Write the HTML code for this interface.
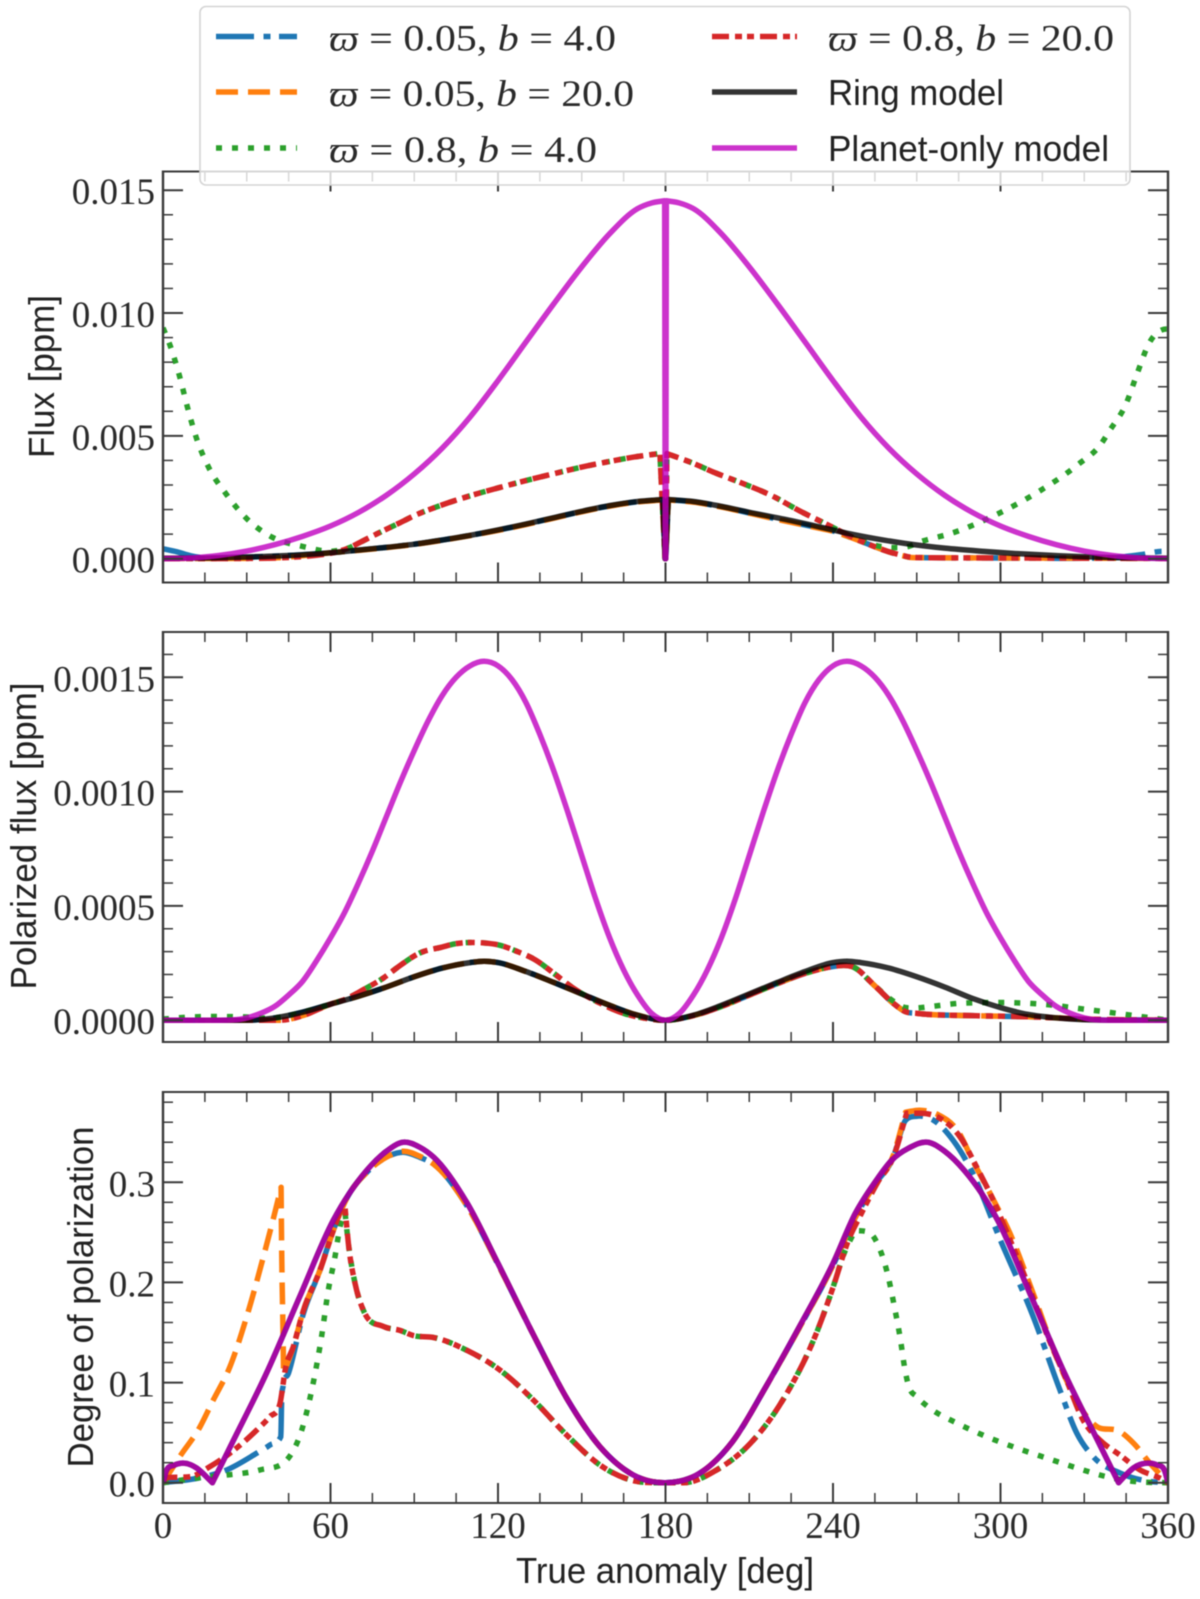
<!DOCTYPE html>
<html lang="en">
<head>
<meta charset="utf-8">
<title>Flux, polarized flux and degree of polarization vs true anomaly</title>
<style>
html,body{margin:0;padding:0;background:#fff;width:1200px;height:1599px;overflow:hidden}
svg{display:block;filter:blur(.45px)}
.tick-label{font-family:"Liberation Serif","DejaVu Serif",serif;font-size:37px;fill:#2a2a2a}
.axis-title{font-family:"Liberation Sans","DejaVu Sans",sans-serif;font-size:36px;fill:#222}
.legend-math{font-family:"Liberation Serif","DejaVu Serif",serif;font-size:37px;fill:#2a2a2a}
.legend-sans{font-family:"Liberation Sans","DejaVu Sans",sans-serif;font-size:36px;fill:#222}
.it{font-style:italic}
</style>
</head>
<body>
<svg id="chart" xmlns="http://www.w3.org/2000/svg" width="1200" height="1599" viewBox="0 0 1200 1599">
  <defs>
    <clipPath id="clip-flux"><rect x="163" y="171.5" width="1005" height="411"/></clipPath>
    <clipPath id="clip-pol"><rect x="163" y="632" width="1005" height="410"/></clipPath>
    <clipPath id="clip-dop"><rect x="163" y="1092" width="1005" height="411"/></clipPath>
  </defs>
  <g id="panels"></g>

  <text class="axis-title" transform="translate(54,376.5) rotate(-90)" text-anchor="middle" textLength="163" lengthAdjust="spacingAndGlyphs">Flux [ppm]</text>
  <text class="axis-title" transform="translate(36,836) rotate(-90)" text-anchor="middle" textLength="307" lengthAdjust="spacingAndGlyphs">Polarized flux [ppm]</text>
  <text class="axis-title" transform="translate(93,1297) rotate(-90)" text-anchor="middle" textLength="341" lengthAdjust="spacingAndGlyphs">Degree of polarization</text>
  <text class="axis-title" x="516" y="1583" textLength="298" lengthAdjust="spacingAndGlyphs">True anomaly [deg]</text>

  <g>
    <rect x="200" y="6.5" width="930" height="178.5" rx="6" ry="6" fill="#fff" fill-opacity="0.8" stroke="#d4d4d4" stroke-width="1.6"/>
    <g>
      <line x1="216" x2="297" y1="36.5" y2="36.5" stroke="#1f77b4" stroke-width="5.5" stroke-dasharray="38 9.5 7 8.5"/>
      <text class="legend-math" x="329" y="50.5" textLength="287" lengthAdjust="spacingAndGlyphs"><tspan class="it">ϖ</tspan> = 0.05, <tspan class="it">b</tspan> = 4.0</text>
    </g>
    <g>
      <line x1="216" x2="297" y1="92" y2="92" stroke="#ff7f0e" stroke-width="5.5" stroke-dasharray="22 10"/>
      <text class="legend-math" x="329" y="106" textLength="305" lengthAdjust="spacingAndGlyphs"><tspan class="it">ϖ</tspan> = 0.05, <tspan class="it">b</tspan> = 20.0</text>
    </g>
    <g>
      <line x1="216" x2="297" y1="148" y2="148" stroke="#2ca02c" stroke-width="5.5" stroke-dasharray="6 10"/>
      <text class="legend-math" x="329" y="162" textLength="268" lengthAdjust="spacingAndGlyphs"><tspan class="it">ϖ</tspan> = 0.8, <tspan class="it">b</tspan> = 4.0</text>
    </g>
    <g>
      <line x1="712" x2="797" y1="36.5" y2="36.5" stroke="#d62728" stroke-width="5.5" stroke-dasharray="17 6 7 5 7 6"/>
      <text class="legend-math" x="828" y="50.5" textLength="286" lengthAdjust="spacingAndGlyphs"><tspan class="it">ϖ</tspan> = 0.8, <tspan class="it">b</tspan> = 20.0</text>
    </g>
    <g>
      <line x1="712" x2="797" y1="92" y2="92" stroke="#000" stroke-opacity="0.8" stroke-width="5.5"/>
      <text class="legend-sans" x="828" y="105" textLength="176" lengthAdjust="spacingAndGlyphs">Ring model</text>
    </g>
    <g>
      <line x1="712" x2="797" y1="148" y2="148" stroke="#bf00bf" stroke-opacity="0.8" stroke-width="5.5"/>
      <text class="legend-sans" x="828" y="161" textLength="281" lengthAdjust="spacingAndGlyphs">Planet-only model</text>
    </g>
  </g>
</svg>

<script>
// ---------- Axis tick values and labels ----------
const xMajorTicks = [0, 60, 120, 180, 240, 300, 360];
const xMinorTicks = [15, 30, 45, 75, 90, 105, 135, 150, 165, 195, 210, 225, 255, 270, 285, 315, 330, 345];
const xTickLabels = ['0', '60', '120', '180', '240', '300', '360'];

const fluxMajorTicks = [0, 0.005, 0.01, 0.015];
const fluxMinorTicks = [0.001, 0.002, 0.003, 0.004, 0.006, 0.007, 0.008, 0.009, 0.011, 0.012, 0.013, 0.014];
const fluxTickLabels = ['0.000', '0.005', '0.010', '0.015'];

const polMajorTicks = [0, 0.0005, 0.001, 0.0015];
const polMinorTicks = [0.0001, 0.0002, 0.0003, 0.0004, 0.0006, 0.0007, 0.0008, 0.0009, 0.0011, 0.0012, 0.0013, 0.0014, 0.0016];
const polTickLabels = ['0.0000', '0.0005', '0.0010', '0.0015'];

const dopMajorTicks = [0, 0.1, 0.2, 0.3];
const dopMinorTicks = [0.02, 0.04, 0.06, 0.08, 0.12, 0.14, 0.16, 0.18, 0.22, 0.24, 0.26, 0.28, 0.32, 0.34, 0.36, 0.38];
const dopTickLabels = ['0.0', '0.1', '0.2', '0.3'];

// ---------- Flux panel ----------
const fluxBlueAngle = [0,5,10,15,30,45,60,70,80,90,100,110,120,130,140,150,160,170,179,179.85,180.05,181,190,200,210,225,235,240,245,252,260,265,268,275,300,330,340,350,358,360];
const fluxBlueValue = [0.0004,0.00028,0.00012,0.00003,0.00006,0.00013,0.00024,0.00035,0.00046,0.00059,0.00076,0.00095,0.00116,0.0014,0.00166,0.00192,0.00215,0.00232,0.0024,0,0,0.0024,0.00231,0.00211,0.00186,0.00149,0.00125,0.00113,0.00092,0.00062,0.00028,0.00012,0.00005,0.00004,0.00003,0.00002,0.00004,0.00016,0.0003,0.0003];

const fluxOrangeAngle = [0,20,40,50,60,70,80,90,100,110,120,130,140,150,160,170,179,179.85,180.05,181,190,200,210,225,235,240,245,252,260,265,268,275,300,330,360];
const fluxOrangeValue = [0.00001,0.00001,0.00003,0.00012,0.00024,0.00034,0.00045,0.00058,0.00075,0.00094,0.00115,0.00139,0.00165,0.00191,0.00214,0.00231,0.00239,0,0,0.00239,0.0023,0.0021,0.00185,0.00148,0.00124,0.00112,0.00092,0.00062,0.00028,0.00012,0.00005,0.00004,0.00003,0.00002,0.00001];

const fluxGreenAngle = [0,2.6,6,8.8,12,16.3,22.5,30,39,50,61,67,70,75,80,85,90,100,110,120,130,140,150,160,170,178,179.85,180.05,180.5,190,197.7,208,218,228,239,245,252,256,262,266,271.6,282.6,298.4,313.5,327.5,336,339,345,349,353,359.5,360];
const fluxGreenValue = [0.0094,0.00866,0.0074,0.00615,0.0049,0.00373,0.00265,0.00163,0.00088,0.0005,0.00031,0.00046,0.00063,0.00092,0.0012,0.00147,0.00175,0.00219,0.00256,0.00288,0.00318,0.00346,0.00373,0.00396,0.00416,0.00428,0,0,0.00428,0.00388,0.0035,0.00305,0.00257,0.00195,0.00133,0.00098,0.00066,0.00052,0.00045,0.00047,0.0007,0.00104,0.00179,0.00272,0.00381,0.00467,0.0052,0.00631,0.00755,0.00872,0.00935,0.00935];

const fluxRedAngle = [0,30,45,55,62,67,70,75,80,85,90,100,110,120,130,140,150,160,170,178,179.85,180.05,180.5,190,197.7,208,218,228,239,245,252,259,265,268,275,300,330,360];
const fluxRedValue = [0,0.00001,0.00005,0.00014,0.00027,0.00046,0.00063,0.00092,0.0012,0.00147,0.00175,0.00219,0.00256,0.00288,0.00318,0.00346,0.00373,0.00396,0.00416,0.00428,0,0,0.00428,0.00388,0.0035,0.00305,0.00257,0.00195,0.00133,0.00098,0.00062,0.00032,0.00013,0.00006,0.00004,0.00003,0.00002,0.00001];

const fluxRingAngle = [0,15,30,45,60,70,80,90,100,110,120,130,140,150,160,170,179,179.85,180.05,181,190,200,210,225,235,245,255,266,280,294,307,321,340,360];
const fluxRingValue = [0.00002,0.00003,0.00007,0.00013,0.00024,0.00035,0.00046,0.00059,0.00076,0.00095,0.00117,0.00141,0.00167,0.00193,0.00216,0.00233,0.00241,0,0,0.00241,0.00233,0.00213,0.00189,0.00155,0.0013,0.00104,0.00082,0.00062,0.00043,0.0003,0.0002,0.00012,0.00005,0.00002];

const fluxPlanetAngle = [0,10,20,30,40,50,60,70,80,90,100,110,120,130,140,150,160,170,175,179.7,179.9,180.1,180.3,185,190,200,210,220,230,240,250,260,270,280,290,300,310,320,330,340,350,360];
const fluxPlanetValue = [0,0.00003,0.00013,0.00031,0.00057,0.00091,0.00133,0.00188,0.00258,0.00345,0.0045,0.00577,0.00725,0.00882,0.01038,0.01188,0.01323,0.01425,0.01448,0.01457,0,0,0.01457,0.01448,0.01425,0.01323,0.01188,0.01038,0.00882,0.00725,0.00577,0.0045,0.00345,0.00258,0.00188,0.00133,0.00091,0.00057,0.00031,0.00013,0.00003,0];

// ---------- Polarized flux panel ----------
const polBlueAngle = [0,30,40,50,60,70,80,90,100,110,115,120,130,140,150,160,170,180,190,200,210,220,230,240,244,247,255,262,266,270,290,310,330,360];
const polBlueValue = [0,0,0.00001,0.000035,0.00007,0.000105,0.000145,0.00019,0.000228,0.000252,0.000258,0.000252,0.000213,0.000165,0.000115,0.000065,0.000022,0,0.00002,0.00006,0.00011,0.00016,0.000205,0.000235,0.00024,0.000234,0.00015,0.00007,0.000037,0.00003,0.00002,0.000015,0.000005,0];

const polOrangeAngle = [0,30,42,50,60,70,80,90,100,110,115,120,130,140,150,160,170,180,190,200,210,220,230,240,244,247,255,262,266,270,290,310,330,360];
const polOrangeValue = [0,0,0,0.00002,0.00007,0.000105,0.000145,0.00019,0.000228,0.000252,0.000258,0.000252,0.000213,0.000165,0.000115,0.000065,0.000022,0,0.00002,0.00006,0.00011,0.00016,0.000205,0.000235,0.00024,0.000234,0.00015,0.00007,0.000037,0.00003,0.00002,0.000015,0.000005,0];

const polGreenAngle = [0,10,20,30,40,50,60,65,72,79,85,92,100,105,110,115,120,127,133.5,140,147,156.5,165,172,180,190,200,210,220,230,240,244,247,255,262,266,269,275,287,303,315,332,348,360];
const polGreenValue = [0.000005,0.000014,0.000016,0.000014,0.00001,0.000035,0.00007,0.00009,0.000135,0.000185,0.00024,0.000294,0.00032,0.000335,0.00034,0.000338,0.00033,0.0003,0.000263,0.000205,0.00014,0.000075,0.00003,0.00001,0,0.00002,0.00006,0.00011,0.00016,0.000205,0.000235,0.00024,0.000234,0.00015,0.00008,0.000055,0.000053,0.00006,0.000075,0.000077,0.00007,0.000045,0.00002,0];

const polRedAngle = [0,30,42,50,60,65,72,79,85,92,100,105,110,115,120,127,133.5,140,147,156.5,165,172,180,190,200,210,220,230,240,244,247,255,262,266,270,290,310,330,360];
const polRedValue = [0,0,0,0.00002,0.00007,0.00009,0.000135,0.000185,0.00024,0.000294,0.00032,0.000335,0.00034,0.000338,0.00033,0.0003,0.000263,0.000205,0.00014,0.000075,0.00003,0.00001,0,0.00002,0.00006,0.00011,0.00016,0.000205,0.000235,0.00024,0.000234,0.00015,0.00007,0.000037,0.00003,0.00002,0.000015,0.000005,0];

const polRingAngle = [0,30,40,50,60,70,80,90,100,110,115,120,130,140,150,160,170,180,190,200,210,220,230,240,245,250,260,270,280,290,300,310,320,340,360];
const polRingValue = [0,0,0.00001,0.000035,0.00007,0.000105,0.000145,0.00019,0.000228,0.000252,0.000258,0.000252,0.000213,0.000165,0.000115,0.000065,0.000022,0,0.000022,0.000065,0.000115,0.000165,0.000213,0.000252,0.000258,0.000252,0.000228,0.00019,0.000145,0.000095,0.000055,0.000025,0.00001,0,0];

const polPlanetAngle = [0,20,30,35,40,45,50,55,60,65,70,75,80,85,90,95,100,105,110,115,120,125,130,135,140,145,150,155,160,165,170,175,180,185,190,195,200,205,210,215,220,225,230,235,240,245,250,255,260,265,270,275,280,285,290,295,300,305,310,315,320,325,330,340,360];
const polPlanetValue = [0,0,0.00001,0.00003,0.00006,0.00011,0.00017,0.00026,0.00036,0.00047,0.0006,0.00074,0.00089,0.00104,0.00118,0.00131,0.00142,0.0015,0.00155,0.00157,0.00155,0.00149,0.00139,0.00125,0.00109,0.00091,0.00072,0.00053,0.00036,0.00022,0.00011,0.00003,0,0.00003,0.00011,0.00022,0.00036,0.00053,0.00072,0.00091,0.00109,0.00125,0.00139,0.00149,0.00155,0.00157,0.00155,0.0015,0.00142,0.00131,0.00118,0.00104,0.00089,0.00074,0.0006,0.00047,0.00036,0.00026,0.00017,0.00011,0.00006,0.00003,0.00001,0,0];

// ---------- Degree of polarization panel ----------
const dopBlueAngle = [0,13.3,22.8,33.6,38.3,42.2,42.5,43,44.9,50.3,56.2,61,66,73,80,86,92,97,109,120,133,145,156.5,168.5,180,192.4,204,216,228,240,248,255,261.6,266,270,276,283,289,300,311.7,321.3,327.3,333.2,342.8,352.3,360];
const dopBlueValue = [0,0.005,0.0127,0.0295,0.0376,0.046,0.0825,0.096,0.109,0.169,0.212,0.252,0.285,0.31,0.325,0.33,0.325,0.318,0.276,0.218,0.146,0.0825,0.036,0.0077,0,0.0097,0.041,0.096,0.155,0.217,0.265,0.298,0.325,0.362,0.366,0.362,0.342,0.315,0.242,0.166,0.0925,0.0496,0.026,0.0097,0.0017,0];

const dopOrangeAngle = [0,6,13.3,18,24,30,36,40,42.3,42.5,43,43.2,46.7,50.3,56.2,61,66,73,80,86,92,97,109,120,133,145,156.5,168.5,180,192.4,204,216,228,240,248,255,261.6,266,271,278,285,290,297,303.4,311.7,321,330.9,335.6,341.6,347.6,353.5,360];
const dopOrangeValue = [0,0.026,0.056,0.0825,0.116,0.166,0.226,0.269,0.295,0.235,0.149,0.109,0.136,0.172,0.212,0.252,0.285,0.31,0.325,0.331,0.326,0.318,0.276,0.218,0.146,0.0825,0.036,0.0077,0,0.0097,0.041,0.096,0.155,0.217,0.265,0.298,0.327,0.37,0.372,0.367,0.35,0.322,0.285,0.249,0.189,0.119,0.066,0.0545,0.0525,0.0396,0.0196,0];

const dopGreenAngle = [0,13.3,22.8,34.7,44.9,49.7,53.8,56.8,59.2,61.6,63.4,65.2,66.4,68.8,71.8,79,85,89.6,97,109,120.7,132.7,144.6,156.5,168.5,176,186.5,198.3,210.3,222,234,240,243.7,247.9,252.9,256.2,259.8,262,264,265.8,267,270,274.7,284.3,295,305.8,316.5,327.3,338,348.8,360];
const dopGreenValue = [0,0.005,0.0077,0.0127,0.0246,0.0526,0.0995,0.146,0.192,0.2255,0.2555,0.27,0.239,0.199,0.172,0.156,0.152,0.147,0.145,0.132,0.1125,0.0825,0.0476,0.0177,0.002,0,0,0.0127,0.039,0.0825,0.149,0.195,0.227,0.252,0.25,0.237,0.2055,0.1756,0.1457,0.1125,0.0975,0.086,0.0745,0.0596,0.046,0.0346,0.0246,0.0147,0.006,0.001,0];

const dopRedAngle = [0,1.3,9.7,16.8,24,33.6,38.3,41.9,42.9,43.5,46.7,50.3,56.2,61,64,65.2,66.4,68.8,71.8,79,85,89.6,97,109,120.7,132.7,144.6,156.5,168.5,176,186.5,198.3,210.3,222,234,240,245.5,250,256,261.6,266.4,271,278.3,285.6,291.5,297.4,302,309.3,316.5,323.7,329.6,335.6,342.8,350,357,360];
const dopRedValue = [0,0.005,0.006,0.016,0.0295,0.0526,0.066,0.079,0.096,0.108,0.136,0.172,0.212,0.252,0.275,0.275,0.239,0.199,0.172,0.156,0.152,0.147,0.145,0.132,0.1125,0.0825,0.0476,0.0177,0.002,0,0,0.0127,0.039,0.0825,0.149,0.195,0.242,0.268,0.3,0.325,0.369,0.369,0.364,0.345,0.315,0.282,0.252,0.202,0.149,0.102,0.0625,0.0425,0.0276,0.0127,0.0047,0];

const dopRingAngle = [0,1.3,4,7.3,10,12,17.7,25,37,49,61,73,80,86,92,97,109,120,133,145,156.5,168.5,180,192.4,204,216,228,240,248,255,261,267,274,280,287,299,311,323,335,342.3,345,347.6,352.7,356,358.7,360];
const dopRingValue = [0,0.0127,0.0175,0.0195,0.0178,0.0147,0,0.041,0.109,0.186,0.262,0.312,0.331,0.34,0.335,0.325,0.279,0.219,0.146,0.0825,0.036,0.0077,0,0.0097,0.041,0.096,0.156,0.219,0.269,0.3,0.322,0.334,0.34,0.331,0.312,0.262,0.186,0.109,0.041,0,0.008,0.0147,0.0195,0.0178,0.0127,0];

const dopPlanetAngle = [0,1.3,4,7.3,10,12,17.7,25,37,49,61,73,80,86,92,97,109,120,133,145,156.5,168.5,180,192.4,204,216,228,240,248,255,261,267,274,280,287,299,311,323,335,342.3,345,347.6,352.7,356,358.7,360];
const dopPlanetValue = [0,0.0127,0.0175,0.0195,0.0178,0.0147,0,0.041,0.109,0.186,0.262,0.312,0.331,0.34,0.335,0.325,0.279,0.219,0.146,0.0825,0.036,0.0077,0,0.0097,0.041,0.096,0.156,0.219,0.269,0.3,0.322,0.334,0.34,0.331,0.312,0.262,0.186,0.109,0.041,0,0.008,0.0147,0.0195,0.0178,0.0127,0];

// ---------- Axis functions ----------
const SVG_NS = 'http://www.w3.org/2000/svg';
const panelsRoot = document.getElementById('panels');
const plotLeft = 163, plotRight = 1168;
function xScale(v) { return plotLeft + (v / 360) * (plotRight - plotLeft); }
function fluxY(v) { return 558.7 - v * (368.5 / 0.015); }
function polY(v) { return 1020.2 - v * (342.9 / 0.0015); }
function dopY(v) { return 1482.7 - v * (300.4 / 0.3); }

// Smooth cubic path: weighted central tangents with an overshoot limiter;
// sharp turns stay as corners using one-sided tangents.
function smoothPath(px, py) {
  const n = px.length, d = [], mIn = [], mOut = [];
  for (let i = 0; i < n - 1; i++) d.push((py[i + 1] - py[i]) / (px[i + 1] - px[i]));
  mIn[0] = mOut[0] = d[0];
  mIn[n - 1] = mOut[n - 1] = d[n - 2];
  for (let i = 1; i < n - 1; i++) {
    const d0 = d[i - 1], d1 = d[i];
    const turn = Math.abs(Math.atan(d0) - Math.atan(d1));
    if (turn > 1.0) { mIn[i] = d0; mOut[i] = d1; continue; }
    const h0 = px[i] - px[i - 1], h1 = px[i + 1] - px[i];
    let m = (d0 * h1 + d1 * h0) / (h0 + h1);
    if (d0 === 0 || d1 === 0) m = 0;
    else if (d0 * d1 > 0) {
      const lim = 3 * Math.min(Math.abs(d0), Math.abs(d1));
      m = Math.sign(d0) * Math.min(Math.abs(m), lim);
    }
    mIn[i] = mOut[i] = m;
  }
  let path = 'M' + px[0].toFixed(2) + ',' + py[0].toFixed(2);
  for (let i = 0; i < n - 1; i++) {
    const h = (px[i + 1] - px[i]) / 3;
    path += 'C' + (px[i] + h).toFixed(2) + ',' + (py[i] + mOut[i] * h).toFixed(2) + ' ' +
      (px[i + 1] - h).toFixed(2) + ',' + (py[i + 1] - mIn[i + 1] * h).toFixed(2) + ' ' +
      px[i + 1].toFixed(2) + ',' + py[i + 1].toFixed(2);
  }
  return path;
}

function drawSeries(group, panelKey, seriesKey, angles, values, yFn, stroke, opacity, dash, clipId) {
  const el = document.createElementNS(SVG_NS, 'path');
  
  
  el.setAttribute('d', smoothPath(angles.map(xScale), values.map(yFn)));
  el.setAttribute('fill', 'none');
  el.setAttribute('stroke', stroke);
  el.setAttribute('stroke-opacity', opacity);
  el.setAttribute('stroke-width', '5.5');
  el.setAttribute('stroke-linejoin', 'round');
  if (dash) el.setAttribute('stroke-dasharray', dash);
  el.setAttribute('clip-path', 'url(#' + clipId + ')');
  group.appendChild(el);
}

function drawTick(group, name, x1, y1, x2, y2, width) {
  const el = document.createElementNS(SVG_NS, 'line');
  
  
  el.setAttribute('x1', x1);
  el.setAttribute('y1', y1);
  el.setAttribute('x2', x2);
  el.setAttribute('y2', y2);
  el.setAttribute('stroke', '#3a3a3a');
  el.setAttribute('stroke-width', width);
  group.appendChild(el);
}

function drawText(group, name, text, x, y, anchor) {
  const el = document.createElementNS(SVG_NS, 'text');
  
  
  el.setAttribute('class', 'tick-label');
  el.setAttribute('x', x);
  el.setAttribute('y', y);
  el.setAttribute('text-anchor', anchor);
  el.textContent = text;
  group.appendChild(el);
}

function drawPanel(cfg) {
  const g = document.createElementNS(SVG_NS, 'g');
  
  
  panelsRoot.appendChild(g);

  // series, in plotting order
  cfg.series.forEach(function (s) {
    drawSeries(g, cfg.key, s.key, s.angles, s.values, cfg.yFn, s.stroke, s.opacity, s.dash, cfg.clip);
  });

  // x ticks on bottom and top
  xMajorTicks.forEach(function (t) {
    const px = xScale(t);
    drawTick(g, cfg.key + '-x-major-tick-bottom', px, cfg.bottom, px, cfg.bottom - 20, 2);
    drawTick(g, cfg.key + '-x-major-tick-top', px, cfg.top, px, cfg.top + 20, 2);
  });
  xMinorTicks.forEach(function (t) {
    const px = xScale(t);
    drawTick(g, cfg.key + '-x-minor-tick-bottom', px, cfg.bottom, px, cfg.bottom - 10, 1.5);
    drawTick(g, cfg.key + '-x-minor-tick-top', px, cfg.top, px, cfg.top + 10, 1.5);
  });

  // y ticks on left and right
  cfg.yMajor.forEach(function (t, i) {
    const py = cfg.yFn(t);
    drawTick(g, cfg.key + '-y-major-tick-left', plotLeft, py, plotLeft + 20, py, 2);
    drawTick(g, cfg.key + '-y-major-tick-right', plotRight, py, plotRight - 20, py, 2);
    drawText(g, cfg.key + '-y-tick-label', cfg.yLabels[i], 155, py + 14, 'end');
  });
  cfg.yMinor.forEach(function (t) {
    const py = cfg.yFn(t);
    drawTick(g, cfg.key + '-y-minor-tick-left', plotLeft, py, plotLeft + 10, py, 1.5);
    drawTick(g, cfg.key + '-y-minor-tick-right', plotRight, py, plotRight - 10, py, 1.5);
  });

  // spines
  drawTick(g, cfg.key + '-left-spine', plotLeft, cfg.top - 1, plotLeft, cfg.bottom + 1, 2.4);
  drawTick(g, cfg.key + '-right-spine', plotRight, cfg.top - 1, plotRight, cfg.bottom + 1, 2.4);
  drawTick(g, cfg.key + '-top-spine', plotLeft, cfg.top, plotRight, cfg.top, 2);
  drawTick(g, cfg.key + '-bottom-spine', plotLeft, cfg.bottom, plotRight, cfg.bottom, 2);

  if (cfg.showXLabels) {
    xMajorTicks.forEach(function (t, i) {
      drawText(g, 'x-tick-label', xTickLabels[i], xScale(t), 1538, 'middle');
    });
  }
}

const BLUE = '#1f77b4', ORANGE = '#ff7f0e', GREEN = '#2ca02c', RED = '#d62728';
const DASH_BLUE = '38 9.5 7 8.5', DASH_ORANGE = '22 10', DASH_GREEN = '6 10', DASH_RED = '17 6 7 5 7 6';

drawPanel({
  key: 'flux', yFn: fluxY, top: 171.5, bottom: 582.5, clip: 'clip-flux',
  yMajor: fluxMajorTicks, yMinor: fluxMinorTicks, yLabels: fluxTickLabels, showXLabels: false,
  series: [
    { key: 'w005-b4', angles: fluxBlueAngle, values: fluxBlueValue, stroke: BLUE, opacity: 1, dash: DASH_BLUE },
    { key: 'w005-b20', angles: fluxOrangeAngle, values: fluxOrangeValue, stroke: ORANGE, opacity: 1, dash: DASH_ORANGE },
    { key: 'w08-b4', angles: fluxGreenAngle, values: fluxGreenValue, stroke: GREEN, opacity: 1, dash: DASH_GREEN },
    { key: 'w08-b20', angles: fluxRedAngle, values: fluxRedValue, stroke: RED, opacity: 1, dash: DASH_RED },
    { key: 'ring-model', angles: fluxRingAngle, values: fluxRingValue, stroke: '#000', opacity: 0.8, dash: null },
    { key: 'planet-only-model', angles: fluxPlanetAngle, values: fluxPlanetValue, stroke: '#bf00bf', opacity: 0.8, dash: null }
  ]
});

drawPanel({
  key: 'polarized-flux', yFn: polY, top: 632, bottom: 1042, clip: 'clip-pol',
  yMajor: polMajorTicks, yMinor: polMinorTicks, yLabels: polTickLabels, showXLabels: false,
  series: [
    { key: 'w005-b4', angles: polBlueAngle, values: polBlueValue, stroke: BLUE, opacity: 1, dash: DASH_BLUE },
    { key: 'w005-b20', angles: polOrangeAngle, values: polOrangeValue, stroke: ORANGE, opacity: 1, dash: DASH_ORANGE },
    { key: 'w08-b4', angles: polGreenAngle, values: polGreenValue, stroke: GREEN, opacity: 1, dash: DASH_GREEN },
    { key: 'w08-b20', angles: polRedAngle, values: polRedValue, stroke: RED, opacity: 1, dash: DASH_RED },
    { key: 'ring-model', angles: polRingAngle, values: polRingValue, stroke: '#000', opacity: 0.8, dash: null },
    { key: 'planet-only-model', angles: polPlanetAngle, values: polPlanetValue, stroke: '#bf00bf', opacity: 0.8, dash: null }
  ]
});

drawPanel({
  key: 'degree-of-polarization', yFn: dopY, top: 1092, bottom: 1503, clip: 'clip-dop',
  yMajor: dopMajorTicks, yMinor: dopMinorTicks, yLabels: dopTickLabels, showXLabels: true,
  series: [
    { key: 'w005-b4', angles: dopBlueAngle, values: dopBlueValue, stroke: BLUE, opacity: 1, dash: DASH_BLUE },
    { key: 'w005-b20', angles: dopOrangeAngle, values: dopOrangeValue, stroke: ORANGE, opacity: 1, dash: DASH_ORANGE },
    { key: 'w08-b4', angles: dopGreenAngle, values: dopGreenValue, stroke: GREEN, opacity: 1, dash: DASH_GREEN },
    { key: 'w08-b20', angles: dopRedAngle, values: dopRedValue, stroke: RED, opacity: 1, dash: DASH_RED },
    { key: 'ring-model', angles: dopRingAngle, values: dopRingValue, stroke: '#000', opacity: 0.8, dash: null },
    { key: 'planet-only-model', angles: dopPlanetAngle, values: dopPlanetValue, stroke: '#bf00bf', opacity: 0.8, dash: null }
  ]
});
</script>
</body>
</html>
